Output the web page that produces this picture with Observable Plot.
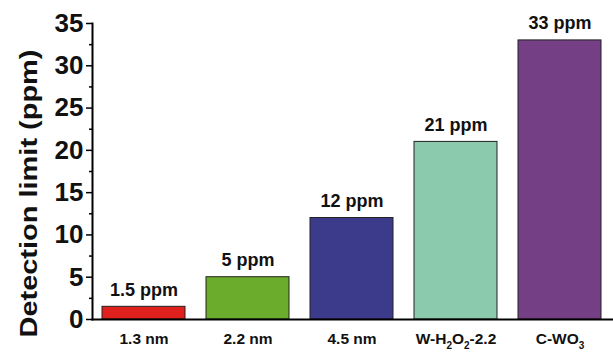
<!DOCTYPE html>
<html><head><meta charset="utf-8">
<script src="https://cdn.jsdelivr.net/npm/d3@7"></script>
<script src="https://cdn.jsdelivr.net/npm/@observablehq/plot@0.6"></script>
<style>
body{margin:0;background:#fff;}
svg{font-family:"Liberation Sans",Arial,sans-serif;}
</style></head>
<body><div id="chart"></div>
<script>
const categories = ["1.3 nm", "2.2 nm", "4.5 nm", "W-H2O2-2.2", "C-WO3"];
const values = [1.5, 5, 12, 21, 33];
const valueLabels = ["1.5 ppm", "5 ppm", "12 ppm", "21 ppm", "33 ppm"];
const colors = ["#e0201c", "#6cac2c", "#3c3a8a", "#8ccaae", "#743f85"];
const majorTicks = [0, 5, 10, 15, 20, 25, 30, 35];
const minorTicks = [2.5, 7.5, 12.5, 17.5, 22.5, 27.5, 32.5];
const yTitle = "Detection limit (ppm)";

const data = categories.map((c, i) => ({cat: c, v: values[i], label: valueLabels[i], color: colors[i]}));

const chart = Plot.plot({
  width: 613, height: 354,
  marginLeft: 92, marginRight: 1, marginTop: 23, marginBottom: 35,
  style: {fontFamily: "'Liberation Sans', Arial, sans-serif", background: "#fff"},
  x: {domain: categories, paddingInner: 0.2, paddingOuter: 0.1, label: null},
  y: {domain: [0, 35], label: null},
  marks: [
    Plot.barY(data, {x: "cat", y: "v", fill: "color", stroke: "#222", strokeWidth: 1}),
    Plot.text(data, {x: "cat", y: "v", text: "label", dy: -17, fontSize: 18, fontWeight: "bold", fill: "#111"}),
    Plot.axisY({ticks: minorTicks, tickSize: 3, tickFormat: () => "", strokeWidth: 1.5}),
    Plot.axisY({ticks: majorTicks, tickSize: 6, tickPadding: 3, fontSize: 26, fontWeight: "bold", strokeWidth: 1.5, fill: "#111", label: null}),
    Plot.axisX({tickSize: 0, tickPadding: 13, fontSize: 15.5, fontWeight: "bold", fill: "#111", label: null}),
    Plot.frame({anchor: "left", strokeWidth: 2}),
    Plot.frame({anchor: "bottom", strokeWidth: 2}),
    Plot.text([yTitle], {frameAnchor: "left", textAnchor: "middle", dx: -63, dy: 22, rotate: -90, fontSize: 23, fontWeight: "bold", fill: "#111"})
  ]
});
document.getElementById("chart").appendChild(chart);

// stretch the y-axis title along its length as in the reference
chart.querySelectorAll("text").forEach(t => {
  if (t.textContent === yTitle) {
    t.setAttribute("textLength", "288");
    t.setAttribute("lengthAdjust", "spacingAndGlyphs");
  }
});

// render chemical subscripts in x tick labels
chart.querySelectorAll("g[aria-label='x-axis tick label'] text").forEach(t => {
  const s = t.textContent;
  if (/\d/.test(s) && /[A-Z]/.test(s)) {
    const parts = s.split(/(?<=[A-Z])(\d)/);
    t.textContent = "";
    const ns = "http://www.w3.org/2000/svg";
    parts.forEach((p, i) => {
      if (!p) return;
      const sp = document.createElementNS(ns, "tspan");
      sp.textContent = p;
      if (i % 2 === 1) { sp.setAttribute("font-size", "10"); sp.setAttribute("dy", "5"); }
      else if (i > 0) { sp.setAttribute("dy", "-5"); }
      t.appendChild(sp);
    });
  }
});
</script></body></html>
